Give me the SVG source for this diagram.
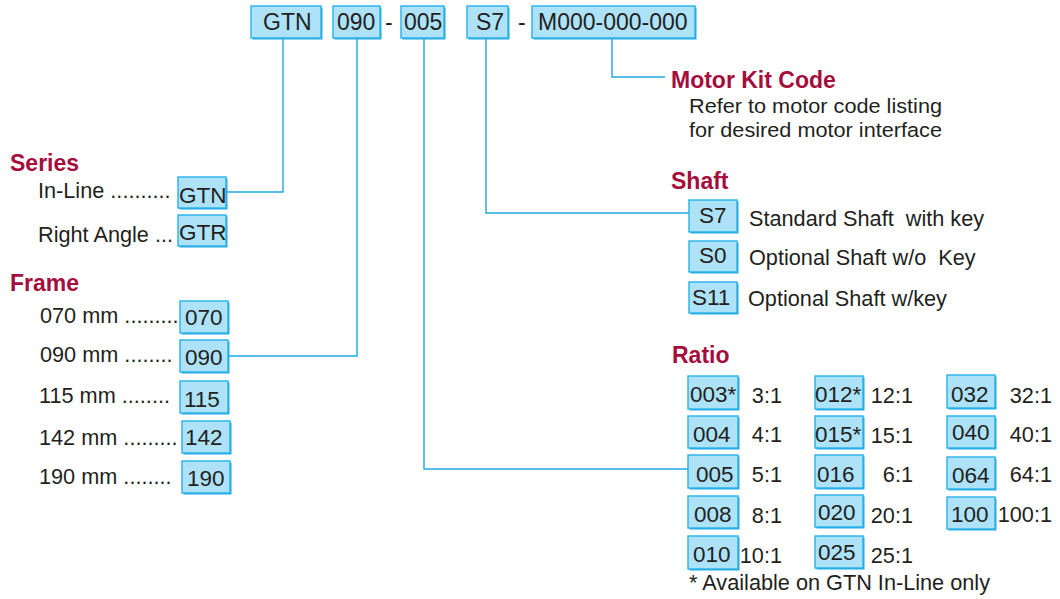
<svg xmlns="http://www.w3.org/2000/svg" width="1060" height="599" viewBox="0 0 1060 599">
  <style>
    text { font-family: "Liberation Sans", Arial, sans-serif; fill: #231f20; }
    .code { font-size: 23px; }
    .box-t { font-size: 22.5px; }
    .lbl { font-size: 21.7px; }
    .note { font-size: 20.5px; }
    .head { font-size: 23px; font-weight: bold; fill: #a50d3d; }
    .box { fill: #ade2f9; stroke: #25b2ea; stroke-width: 1.4; }
    .shadow { fill: #2aa6dc; }
    .wire { fill: none; stroke: #1ea9e4; stroke-width: 1.4; }
  </style>
  <rect width="1060" height="599" fill="#ffffff"/>

  <!-- connectors -->
  <g id="connectors">
    <polyline class="wire" points="283,38 283,192 226,192"/>
    <polyline class="wire" points="357,38 357,356 228,356"/>
    <polyline class="wire" points="424,38 424,469 688,469"/>
    <polyline class="wire" points="486,38 486,213 689,213"/>
    <polyline class="wire" points="612,38 612,77 665,77"/>
  </g>

  <!-- model code -->
  <g id="code-series">
    <rect class="shadow" x="252.5" y="7.5" width="70" height="32"/>
    <rect class="box" x="251" y="6" width="70" height="32"/>
    <text class="code" x="263" y="30">GTN</text>
  </g>
  <g id="code-frame">
    <rect class="shadow" x="334.5" y="7.5" width="47" height="32"/>
    <rect class="box" x="333" y="6" width="47" height="32"/>
    <text class="code" x="337" y="30">090</text>
  </g>
  <text class="code" x="385" y="30">-</text>
  <g id="code-ratio">
    <rect class="shadow" x="402.5" y="7.5" width="43" height="32"/>
    <rect class="box" x="401" y="6" width="43" height="32"/>
    <text class="code" x="404" y="30">005</text>
  </g>
  <g id="code-shaft">
    <rect class="shadow" x="468.5" y="7.5" width="41" height="32"/>
    <rect class="box" x="467" y="6" width="41" height="32"/>
    <text class="code" x="476" y="30">S7</text>
  </g>
  <text class="code" x="518" y="30">-</text>
  <g id="code-motor">
    <rect class="shadow" x="533.5" y="7.5" width="163" height="32"/>
    <rect class="box" x="532" y="6" width="163" height="32"/>
    <text class="code" x="538" y="30">M000-000-000</text>
  </g>

  <!-- Series -->
  <g id="series">
    <text class="head" x="10" y="171">Series</text>
    <text class="lbl" x="38" y="198">In-Line ..........</text>
    <rect class="shadow" x="179.5" y="178.5" width="48" height="31"/>
    <rect class="box" x="178" y="177" width="48" height="31"/>
    <text class="box-t" x="179" y="203">GTN</text>
    <text class="lbl" x="38" y="242">Right Angle ...</text>
    <rect class="shadow" x="179.5" y="216.5" width="48" height="31"/>
    <rect class="box" x="178" y="215" width="48" height="31"/>
    <text class="box-t" x="179" y="240">GTR</text>
  </g>

  <!-- Frame -->
  <g id="frame">
    <text class="head" x="10" y="291">Frame</text>
    <text class="lbl" x="40" y="323">070 mm .........</text>
    <rect class="shadow" x="181.5" y="302.5" width="48" height="32"/>
    <rect class="box" x="180" y="301" width="48" height="32"/>
    <text class="box-t" x="185" y="325">070</text>
    <text class="lbl" x="40" y="362">090 mm ........</text>
    <rect class="shadow" x="181.5" y="341.5" width="48" height="32"/>
    <rect class="box" x="180" y="340" width="48" height="32"/>
    <text class="box-t" x="185" y="365">090</text>
    <text class="lbl" x="39" y="403">115 mm ........</text>
    <rect class="shadow" x="181.5" y="382.5" width="48" height="32"/>
    <rect class="box" x="180" y="381" width="48" height="32"/>
    <text class="box-t" x="184" y="407">115</text>
    <text class="lbl" x="39" y="445">142 mm .........</text>
    <rect class="shadow" x="183.5" y="422.5" width="48" height="32"/>
    <rect class="box" x="182" y="421" width="48" height="32"/>
    <text class="box-t" x="185" y="445">142</text>
    <text class="lbl" x="39" y="484">190 mm ........</text>
    <rect class="shadow" x="183.5" y="462.5" width="48" height="32"/>
    <rect class="box" x="182" y="461" width="48" height="32"/>
    <text class="box-t" x="187" y="486">190</text>
  </g>

  <!-- Motor Kit Code -->
  <g id="motor">
    <text class="head" x="671" y="88">Motor Kit Code</text>
    <text class="note" x="689" y="113" textLength="253" lengthAdjust="spacingAndGlyphs">Refer to motor code listing</text>
    <text class="note" x="689" y="137" textLength="253" lengthAdjust="spacingAndGlyphs">for desired motor interface</text>
  </g>

  <!-- Shaft -->
  <g id="shaft">
    <text class="head" x="671" y="189">Shaft</text>
    <rect class="shadow" x="690.5" y="201.5" width="48" height="32"/>
    <rect class="box" x="689" y="200" width="48" height="32"/>
    <text class="box-t" x="699" y="223">S7</text>
    <text class="lbl" x="749" y="226" xml:space="preserve">Standard Shaft  with key</text>
    <rect class="shadow" x="690.5" y="242.5" width="48" height="31"/>
    <rect class="box" x="689" y="241" width="48" height="31"/>
    <text class="box-t" x="699" y="263">S0</text>
    <text class="lbl" x="749" y="265" xml:space="preserve">Optional Shaft w/o  Key</text>
    <rect class="shadow" x="690.5" y="283.5" width="48" height="31"/>
    <rect class="box" x="689" y="282" width="48" height="31"/>
    <text class="box-t" x="692" y="305">S11</text>
    <text class="lbl" x="748" y="306">Optional Shaft w/key</text>
  </g>

  <!-- Ratio -->
  <g id="ratio">
    <text class="head" x="672" y="363">Ratio</text>
    <g id="ratio-col1">
      <rect class="shadow" x="689.5" y="377.5" width="50" height="33"/>
      <rect class="box" x="688" y="376" width="50" height="33"/>
      <text class="box-t" x="690" y="402">003*</text>
      <rect class="shadow" x="689.5" y="417.5" width="50" height="32"/>
      <rect class="box" x="688" y="416" width="50" height="32"/>
      <text class="box-t" x="693" y="442">004</text>
      <rect class="shadow" x="689.5" y="456.5" width="50" height="33"/>
      <rect class="box" x="688" y="455" width="50" height="33"/>
      <text class="box-t" x="696" y="482">005</text>
      <rect class="shadow" x="689.5" y="497.5" width="50" height="32"/>
      <rect class="box" x="688" y="496" width="50" height="32"/>
      <text class="box-t" x="694" y="522">008</text>
      <rect class="shadow" x="689.5" y="537.5" width="50" height="33"/>
      <rect class="box" x="688" y="536" width="50" height="33"/>
      <text class="box-t" x="693" y="562">010</text>
      <g text-anchor="end">
        <text class="lbl" x="782" y="403">3:1</text>
        <text class="lbl" x="782" y="442">4:1</text>
        <text class="lbl" x="782" y="482">5:1</text>
        <text class="lbl" x="782" y="523">8:1</text>
        <text class="lbl" x="782" y="563">10:1</text>
      </g>
    </g>
    <g id="ratio-col2">
      <rect class="shadow" x="816.5" y="377.5" width="48" height="33"/>
      <rect class="box" x="815" y="376" width="48" height="33"/>
      <text class="box-t" x="815" y="402">012*</text>
      <rect class="shadow" x="816.5" y="417.5" width="48" height="32"/>
      <rect class="box" x="815" y="416" width="48" height="32"/>
      <text class="box-t" x="815" y="442">015*</text>
      <rect class="shadow" x="816.5" y="456.5" width="48" height="33"/>
      <rect class="box" x="815" y="455" width="48" height="33"/>
      <text class="box-t" x="817" y="482">016</text>
      <rect class="shadow" x="816.5" y="496.5" width="48" height="32"/>
      <rect class="box" x="815" y="495" width="48" height="32"/>
      <text class="box-t" x="818" y="520">020</text>
      <rect class="shadow" x="816.5" y="537.5" width="48" height="32"/>
      <rect class="box" x="815" y="536" width="48" height="32"/>
      <text class="box-t" x="818" y="560">025</text>
      <g text-anchor="end">
        <text class="lbl" x="913" y="403">12:1</text>
        <text class="lbl" x="913" y="443">15:1</text>
        <text class="lbl" x="913" y="482">6:1</text>
        <text class="lbl" x="913" y="523">20:1</text>
        <text class="lbl" x="913" y="563">25:1</text>
      </g>
    </g>
    <g id="ratio-col3">
      <rect class="shadow" x="948.5" y="376.5" width="48" height="33"/>
      <rect class="box" x="947" y="375" width="48" height="33"/>
      <text class="box-t" x="951" y="402">032</text>
      <rect class="shadow" x="948.5" y="417.5" width="48" height="32"/>
      <rect class="box" x="947" y="416" width="48" height="32"/>
      <text class="box-t" x="952" y="440">040</text>
      <rect class="shadow" x="948.5" y="458.5" width="48" height="32"/>
      <rect class="box" x="947" y="457" width="48" height="32"/>
      <text class="box-t" x="952" y="483">064</text>
      <rect class="shadow" x="948.5" y="498.5" width="48" height="32"/>
      <rect class="box" x="947" y="497" width="48" height="32"/>
      <text class="box-t" x="951" y="522">100</text>
      <g text-anchor="end">
        <text class="lbl" x="1052" y="403">32:1</text>
        <text class="lbl" x="1052" y="442">40:1</text>
        <text class="lbl" x="1052" y="482">64:1</text>
        <text class="lbl" x="1052" y="522">100:1</text>
      </g>
    </g>
    <text class="lbl" x="689" y="590">* Available on GTN In-Line only</text>
  </g>
</svg>
